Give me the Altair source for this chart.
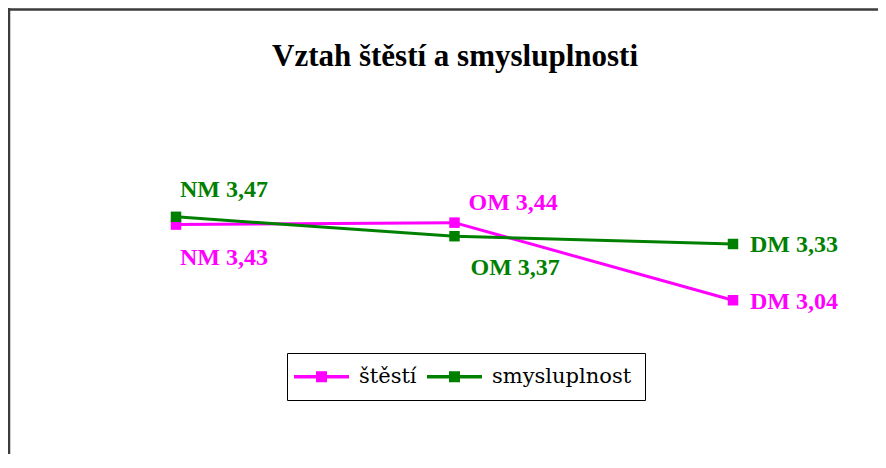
import altair as alt
import pandas as pd

# ---- data ----
categories = ["NM", "OM", "DM"]
series_names = ["štěstí", "smysluplnost"]
stesti = [3.43, 3.44, 3.04]
smysluplnost = [3.47, 3.37, 3.33]
title_text = "Vztah štěstí a smysluplnosti"

rows = []
for name, vals in zip(series_names, [stesti, smysluplnost]):
    for cat, v in zip(categories, vals):
        rows.append({"series": name, "cat": cat, "value": v,
                     "label": f"{cat} {v:.2f}".replace(".", ",")})
df = pd.DataFrame(rows)

# ---- styling ----
W, H = 870, 446
colors = ["#FF00FF", "#008000"]
series_color = dict(zip(series_names, colors))

x = alt.X("cat:N", sort=categories, axis=None,
          scale=alt.Scale(range=[168, 725], padding=0))
y = alt.Y("value:Q", axis=None,
          scale=alt.Scale(domain=[3.0, 3.5], range=[300, 203], nice=False, zero=False))
# line-with-square legend glyph (units of sqrt(size)/2 px)
legend_symbol = ("M-3,-0.3L7,-0.3L7,0.3L-3,0.3Z "
                 "M1,-1L3,-1L3,1L1,1Z")
color_scale = alt.Scale(domain=series_names, range=colors)

base = alt.Chart(df)

line_layers = [
    base.transform_filter(alt.datum.series == s)
    .mark_line(strokeWidth=3, color=series_color[s])
    .encode(x=x, y=y)
    for s in series_names
]

squares = base.mark_square(size=110, opacity=1).encode(
    x=x, y=y,
    color=alt.Color(
        "series:N", sort=series_names, scale=color_scale,
        legend=alt.Legend(
            orient="none", legendX=279, legendY=345, direction="horizontal",
            title=None, strokeColor="black", fillColor="white", padding=13,
            symbolType=legend_symbol, symbolSize=121, symbolStrokeWidth=0,
            symbolOpacity=1, labelFont="DejaVu Serif", labelFontSize=21,
            labelColor="black", labelOffset=38, columnPadding=10,
        ),
    ),
)

label_offsets = {
    ("smysluplnost", "NM"): (4, -27),
    ("štěstí", "NM"): (4, 33),
    ("štěstí", "OM"): (14, -20),
    ("smysluplnost", "OM"): (16, 32),
    ("smysluplnost", "DM"): (17, 1),
    ("štěstí", "DM"): (17, 2),
}
label_layers = []
for (s, c), (dx, dy) in label_offsets.items():
    label_layers.append(
        base.transform_filter(
            (alt.datum.series == s) & (alt.datum.cat == c)
        ).mark_text(
            align="left", baseline="middle", dx=dx, dy=dy, color=series_color[s],
            font="Liberation Serif", fontWeight="bold", fontSize=24,
        ).encode(x=x, y=y, text="label:N")
    )

one = pd.DataFrame({"t": [title_text]})
title = alt.Chart(one).mark_text(
    align="center", baseline="alphabetic", font="Liberation Serif",
    fontWeight="bold", fontSize=31, color="black",
).encode(text="t:N", x=alt.value(447), y=alt.value(58))

left_border = alt.Chart(one).mark_rule(color="#3c3c3c", strokeWidth=2.5).encode(
    x=alt.value(1), y=alt.value(0), y2=alt.value(H))
top_border = alt.Chart(one).mark_rule(color="#3c3c3c", strokeWidth=2.5).encode(
    x=alt.value(0), x2=alt.value(W), y=alt.value(1.5))

chart = alt.layer(
    left_border, top_border, title, *line_layers, squares, *label_layers
).properties(
    width=W, height=H, padding=0,
    autosize=alt.AutoSizeParams(type="none"),
    background="white",
).configure_view(stroke=None)

chart.save("out.html", embed_options={"renderer": "svg", "actions": False})
